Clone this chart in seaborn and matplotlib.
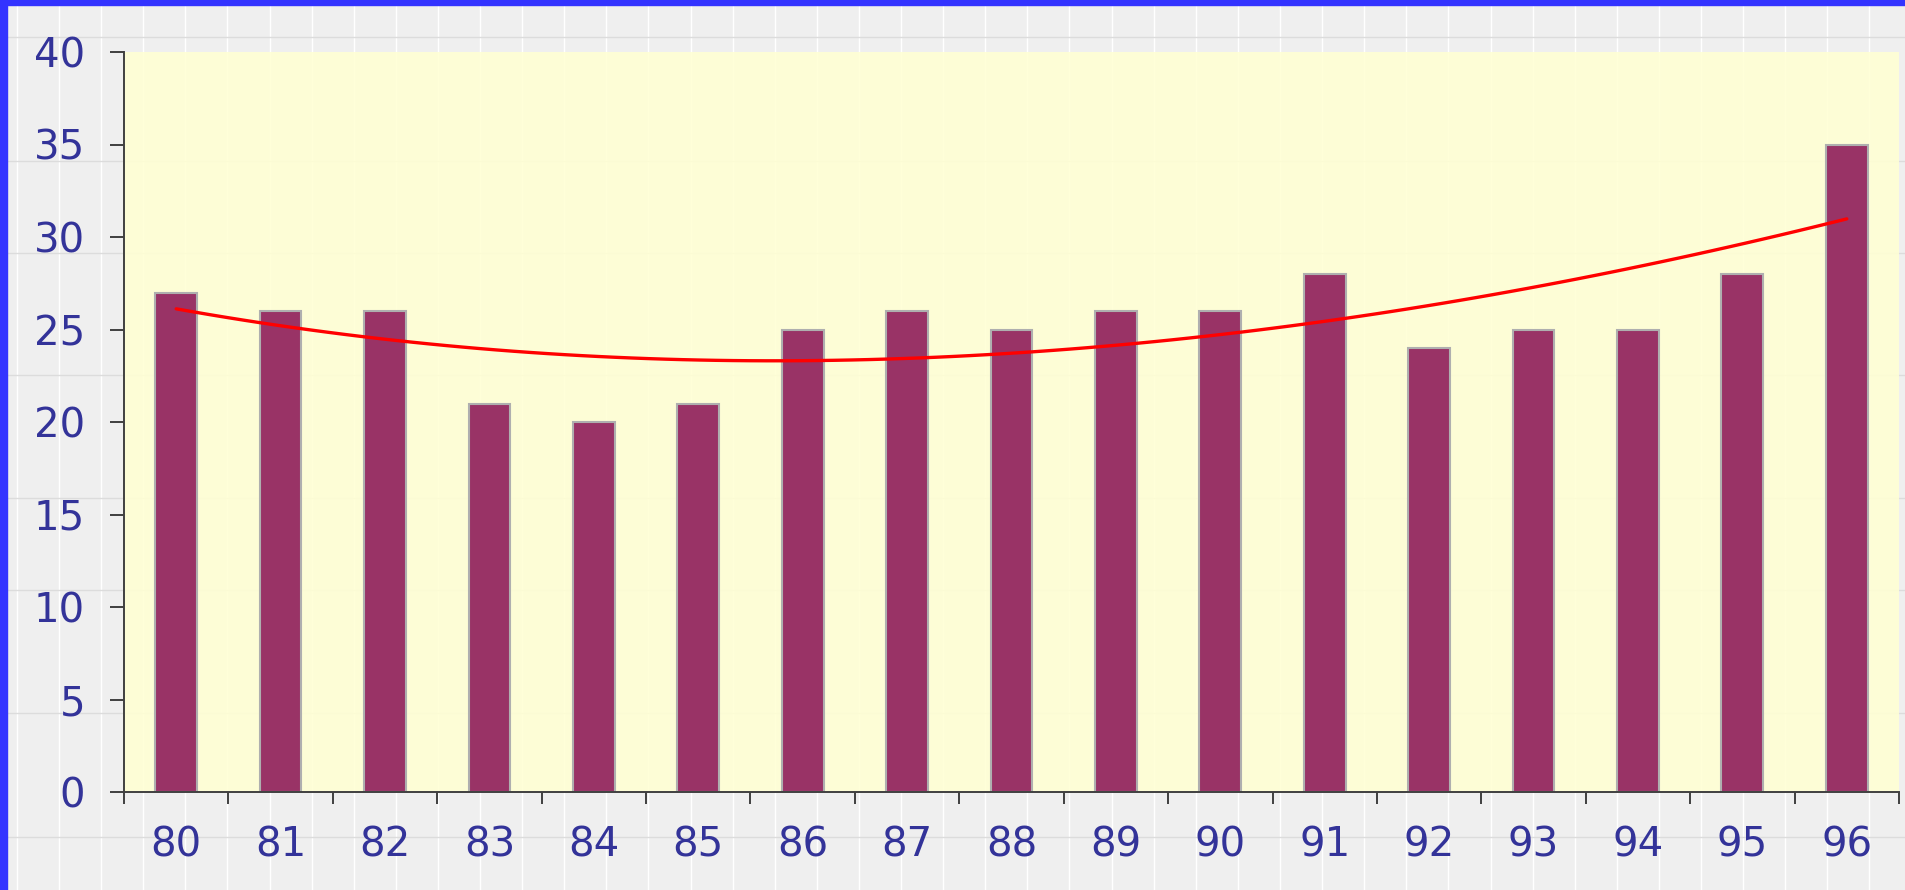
import numpy as np
import matplotlib
matplotlib.use("Agg")
import matplotlib.pyplot as plt
from matplotlib.lines import Line2D
from matplotlib.patches import Rectangle
from matplotlib.ticker import FixedLocator
import seaborn as sns

# ---- data ----
years = ["80", "81", "82", "83", "84", "85", "86", "87", "88",
         "89", "90", "91", "92", "93", "94", "95", "96"]
values = [27, 26, 26, 21, 20, 21, 25, 26, 25, 26, 26, 28, 24, 25, 25, 28, 35]
trend_order = 3  # polynomial trendline (fitted to the bar values)
y_ticks = [0, 5, 10, 15, 20, 25, 30, 35, 40]

# ---- style ----
sns.set_style("white")
plt.rcParams["font.family"] = ["DejaVu Sans"]

W, H = 1906, 890
fig = plt.figure(figsize=(W / 100, H / 100), dpi=100)
fig.patch.set_facecolor("#EFEFEF")

# background texture (decorative)
for xv in np.arange(17, W, 42.1):
    fig.add_artist(Line2D([xv / W, xv / W], [0, 1], color="white",
                          lw=1.0, zorder=-2, transform=fig.transFigure))
for yv in [37, 161, 253, 375, 498, 590, 713, 837]:
    fig.add_artist(Line2D([0, 1], [1 - yv / H, 1 - yv / H], color="#DCDCDC",
                          lw=1.0, zorder=-2, transform=fig.transFigure))
# blue frame on left & top
fig.add_artist(Rectangle((0, 0), 7 / W, 1, transform=fig.transFigure,
                         color="#3333FF", zorder=5))
fig.add_artist(Rectangle((0, 1 - 5 / H), 1, 5 / H, transform=fig.transFigure,
                         color="#3333FF", zorder=5))

ax = fig.add_axes([124 / W, 1 - 792 / H, (1899 - 124) / W, (792 - 52) / H])
ax.set_facecolor((1.0, 1.0, 0.83, 0.9))

sns.barplot(x=years, y=values, color="#993366", saturation=1, width=0.4,
            edgecolor="#AFAFAF", linewidth=1.5, ax=ax, zorder=2)
sns.regplot(x=np.arange(len(years)), y=values, order=trend_order, ci=None,
            scatter=False, color="#FF0000", line_kws={"lw": 2.4, "zorder": 3},
            truncate=True, ax=ax)

ax.set_xlim(-0.5, len(years) - 0.5)
ax.set_ylim(0, 40)
ax.set_yticks(y_ticks)
ax.set_xticks(np.arange(len(years)))
ax.set_xticklabels(years)
ax.xaxis.set_minor_locator(FixedLocator(np.arange(-0.5, len(years), 1.0)))
ax.set_xlabel("")
ax.set_ylabel("")

for s in ["top", "right"]:
    ax.spines[s].set_visible(False)
for s in ["left", "bottom"]:
    ax.spines[s].set_color("#404040")
    ax.spines[s].set_linewidth(1.4)

lab_color = "#333399"
ax.tick_params(axis="y", which="major", direction="out", length=10, width=1.4,
               color="#404040", labelsize=29, labelcolor=lab_color, pad=18,
               left=True)
ax.tick_params(axis="x", which="major", length=0, labelsize=29,
               labelcolor=lab_color, pad=24, bottom=True)
ax.tick_params(axis="x", which="minor", direction="out", length=8.5,
               width=1.4, color="#404040", bottom=True)

fig.savefig("out.png", dpi=100, facecolor=fig.get_facecolor())
